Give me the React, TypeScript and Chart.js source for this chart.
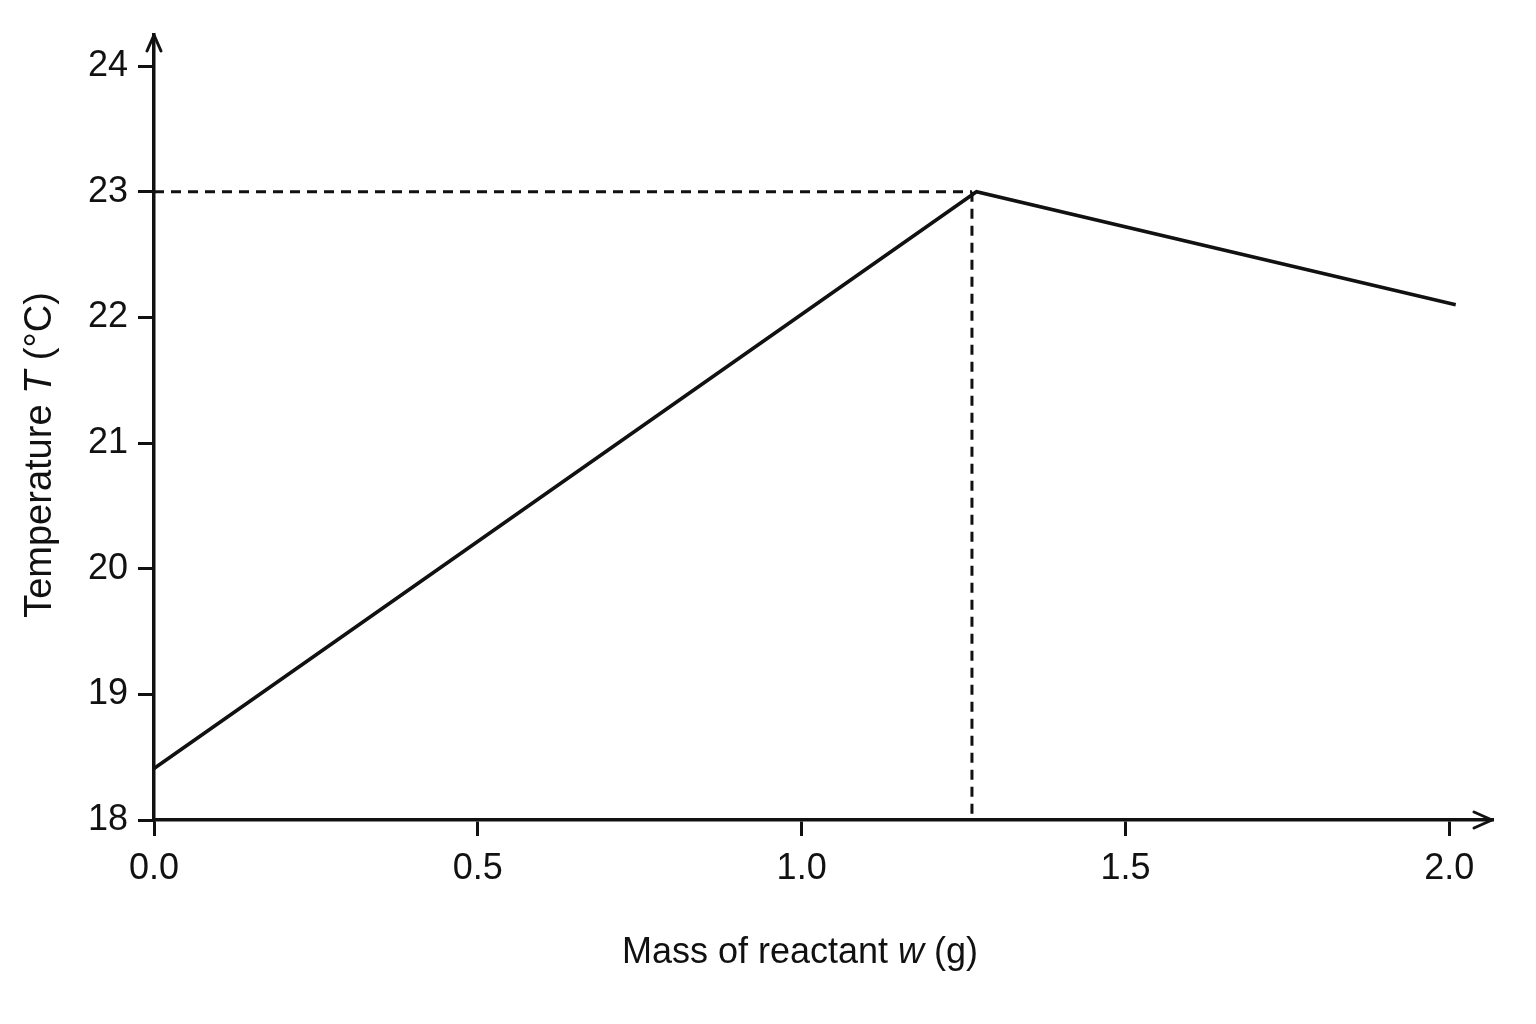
import React, { useRef, useEffect } from 'react';
import { Chart, registerables } from 'chart.js';

Chart.register(...registerables);

// data
const massW = [0, 1.27, 2.01];
const tempT = [18.41, 23.0, 22.1];
const peakMass = 1.263;
const peakTemp = 23;
const xTicks = [0, 0.5, 1.0, 1.5, 2.0];
const yTicks = [18, 19, 20, 21, 22, 23, 24];

const FONT = '"Liberation Sans", Arial, Helvetica, sans-serif';
const INK = '#111111';

type Seg = { text: string; italic?: boolean };

const drawMixed = (ctx: CanvasRenderingContext2D, segs: Seg[], size: number) => {
    const fontOf = (s: Seg) => `${s.italic ? 'italic ' : ''}${size}px ${FONT}`;
    let total = 0;
    segs.forEach(s => {
        ctx.font = fontOf(s);
        total += ctx.measureText(s.text).width;
    });
    let x = -total / 2;
    ctx.textAlign = 'left';
    ctx.textBaseline = 'alphabetic';
    segs.forEach(s => {
        ctx.font = fontOf(s);
        ctx.fillText(s.text, x, 0);
        x += ctx.measureText(s.text).width;
    });
};

// axis titles with italic symbols + arrow heads on the axes
const decorPlugin = {
    id: 'decor',
    afterDraw(chart: any) {
        const { ctx, chartArea } = chart;
        const { left, right, top, bottom } = chartArea;
        ctx.save();
        ctx.strokeStyle = INK;
        ctx.fillStyle = INK;
        ctx.lineWidth = 3;
        ctx.lineCap = 'round';
        ctx.lineJoin = 'round';
        // y arrow
        ctx.beginPath();
        ctx.moveTo(left - 7, top + 16);
        ctx.lineTo(left, top);
        ctx.lineTo(left + 7, top + 16);
        ctx.stroke();
        // x arrow
        ctx.beginPath();
        ctx.moveTo(right - 18, bottom - 8);
        ctx.lineTo(right, bottom);
        ctx.lineTo(right - 18, bottom + 8);
        ctx.stroke();

        // x title
        ctx.save();
        ctx.translate(800, 963);
        drawMixed(ctx, [{ text: 'Mass of reactant ' }, { text: 'w', italic: true }, { text: ' (g)' }], 36);
        ctx.restore();

        // y title
        ctx.save();
        ctx.translate(51, 455);
        ctx.rotate(-Math.PI / 2);
        drawMixed(ctx, [{ text: 'Temperature ' }, { text: 'T', italic: true }, { text: ' (°C)' }], 38);
        ctx.restore();
        ctx.restore();
    }
};

const App: React.FC = () => {
    const chartRef = useRef<HTMLCanvasElement>(null);
    const chartInstanceRef = useRef<Chart | null>(null);

    useEffect(() => {
        if (!chartRef.current) return;
        const ctx = chartRef.current.getContext('2d');
        if (!ctx) return;
        if (chartInstanceRef.current) chartInstanceRef.current.destroy();

        const curve = massW.map((m, i) => ({ x: m, y: tempT[i] }));

        chartInstanceRef.current = new Chart(ctx, {
            type: 'scatter',
            data: {
                datasets: [
                    {
                        data: curve,
                        showLine: true,
                        borderColor: INK,
                        borderWidth: 3.5,
                        pointRadius: 0,
                        tension: 0,
                    },
                    {
                        data: [{ x: 0, y: peakTemp }, { x: peakMass, y: peakTemp }],
                        showLine: true,
                        borderColor: INK,
                        borderWidth: 3,
                        borderDash: [10, 7],
                        pointRadius: 0,
                    },
                    {
                        data: [{ x: peakMass, y: peakTemp }, { x: peakMass, y: 18 }],
                        showLine: true,
                        borderColor: INK,
                        borderWidth: 3,
                        borderDash: [10, 7],
                        pointRadius: 0,
                    },
                ]
            },
            options: {
                responsive: true,
                maintainAspectRatio: false,
                animation: false,
                layout: { padding: { left: 0, top: 35, right: 44, bottom: 0 } },
                plugins: {
                    legend: { display: false },
                    tooltip: { enabled: false },
                },
                scales: {
                    x: {
                        type: 'linear',
                        min: 0,
                        max: 2.066,
                        afterBuildTicks: (scale: any) => {
                            scale.ticks = xTicks.map(v => ({ value: v }));
                        },
                        afterFit: (scale: any) => {
                            scale.height = 204;
                        },
                        ticks: {
                            color: INK,
                            font: { family: FONT, size: 36 },
                            padding: 11,
                            callback: (v: any) => Number(v).toFixed(1),
                        },
                        grid: {
                            drawOnChartArea: false,
                            drawTicks: true,
                            tickLength: 16,
                            tickColor: INK,
                            lineWidth: 3,
                        },
                        border: { display: true, color: INK, width: 3.5 },
                    },
                    y: {
                        type: 'linear',
                        min: 18,
                        max: 24.247,
                        afterBuildTicks: (scale: any) => {
                            scale.ticks = yTicks.map(v => ({ value: v }));
                        },
                        afterFit: (scale: any) => {
                            scale.width = 154;
                        },
                        ticks: {
                            color: INK,
                            font: { family: FONT, size: 36 },
                            padding: 10,
                            callback: (v: any) => String(v),
                        },
                        grid: {
                            drawOnChartArea: false,
                            drawTicks: true,
                            tickLength: 16,
                            tickColor: INK,
                            lineWidth: 3,
                        },
                        border: { display: true, color: INK, width: 3.5 },
                    },
                }
            },
            plugins: [decorPlugin]
        });

        return () => {
            if (chartInstanceRef.current) {
                chartInstanceRef.current.destroy();
                chartInstanceRef.current = null;
            }
        };
    }, []);

    return (
        <div style={{ position: 'absolute', left: 0, top: 0, width: 1536, height: 1024, background: '#ffffff' }}>
            <canvas ref={chartRef}></canvas>
        </div>
    );
};

export default App;
